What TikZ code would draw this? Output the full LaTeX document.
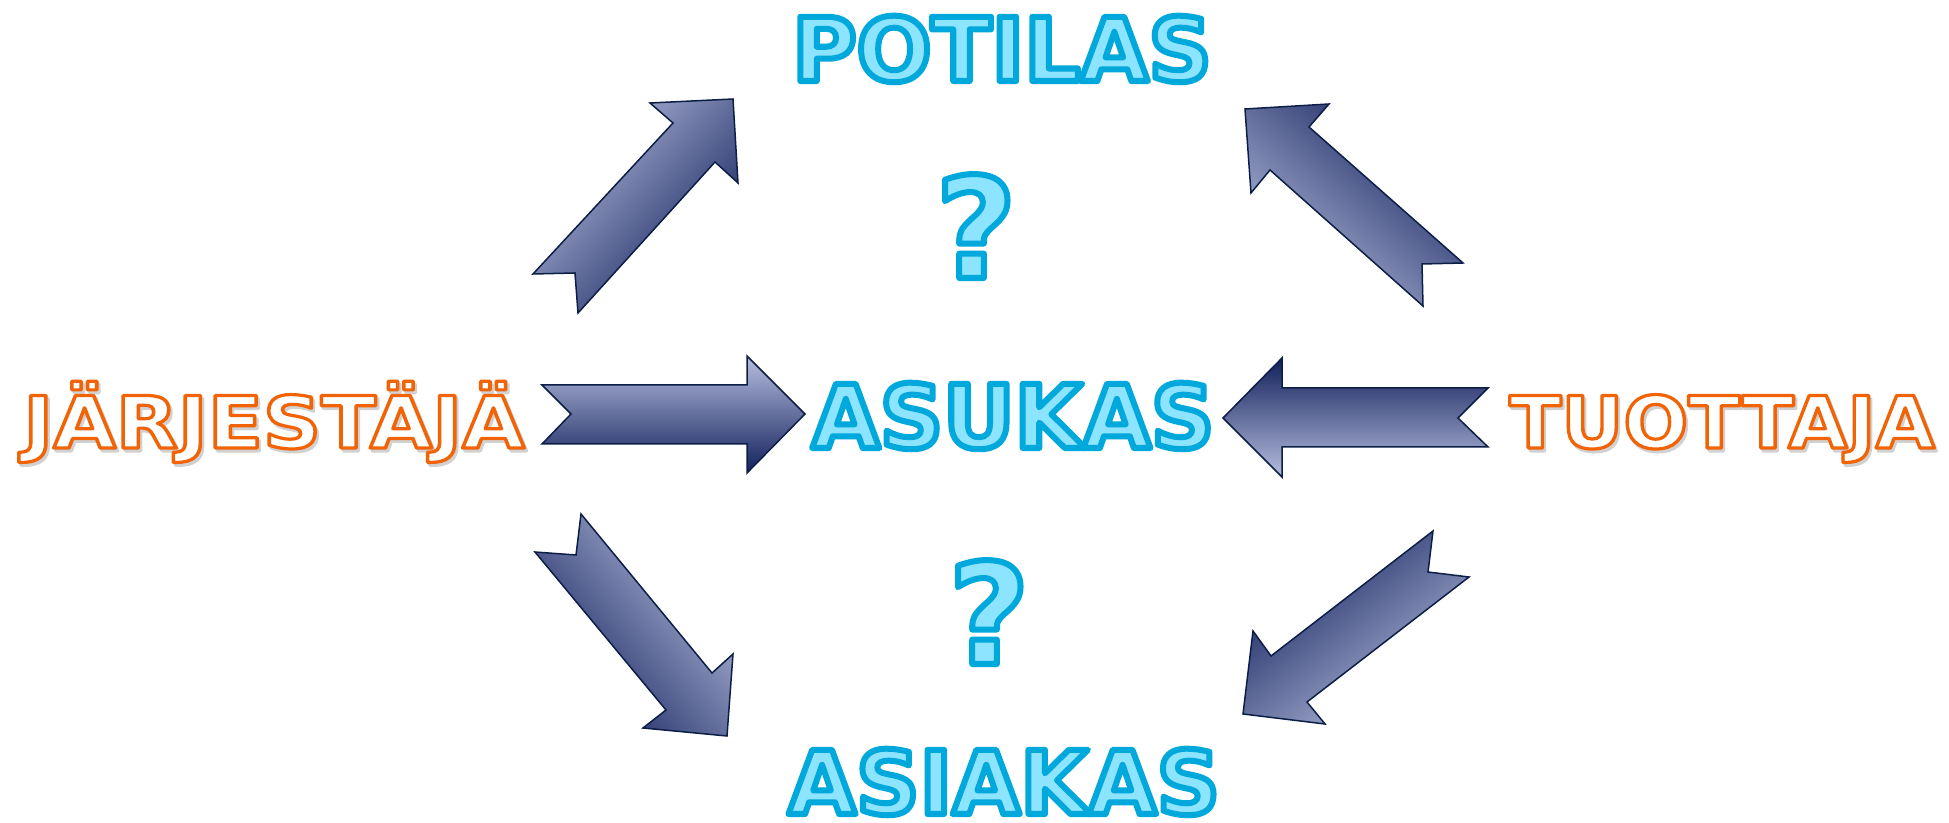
\documentclass[tikz,border=0pt]{standalone}
\usepackage{fontspec}
\setmainfont{DejaVu Sans}
\usetikzlibrary{positioning}

\definecolor{skyfill}{RGB}{140,228,255}
\definecolor{emberfill}{RGB}{255,255,255}
\definecolor{embershadow}{RGB}{210,210,210}
\definecolor{arrowlight}{RGB}{182,190,222}
\definecolor{arrowmid}{RGB}{104,114,160}
\definecolor{arrowdark}{RGB}{18,32,92}
\definecolor{arrowline}{RGB}{12,30,70}

% stroke colour (r g b), stroke width, text
\newcommand\outlined[3]{\special{pdf:literal direct #1 RG #2 w 1 j 2 Tr}#3\special{pdf:literal direct 0 Tr}}
\newcommand\skyword[1]{\textcolor{skyfill}{\outlined{0 0.66 0.86}{6}{#1}}}
\newcommand\emberword[2][1]{\scalebox{#1}[1]{\rlap{\hspace{2pt}\raisebox{-3pt}{\textcolor{embershadow}{\outlined{0.82 0.82 0.82}{3}{#2}}}}\textcolor{emberfill}{\outlined{0.95 0.39 0.02}{3.2}{#2}}}}

\begin{document}
\begin{tikzpicture}[x=1pt,y=1pt,
  word/.style={inner sep=0pt,anchor=base,font=\bfseries\fontsize{88}{90}\selectfont},
  role/.style={inner sep=0pt,anchor=base,font=\bfseries\fontsize{72}{74}\selectfont},
  query/.style={inner sep=0pt,anchor=base,font=\bfseries\fontsize{140}{142}\selectfont},
  fatarrow/.style={draw=arrowline,line width=1.5pt,top color=arrowlight,middle color=arrowmid,bottom color=arrowdark}]
  \useasboundingbox (0,0) rectangle (1949,822);
  % The three names in the middle column.
  \node[word] (asukas) at (1013,374) {\skyword{ASUKAS}};
  \node[word] (potilas) at (1002,741) {\skyword{POTILAS}};
  \node[word] (asiakas) at (1004,8) {\skyword{ASIAKAS}};
  % Question marks between them.
  \node[query] (upq) at (976,544) {\skyword{?}};
  \node[query] (downq) at (989,158) {\skyword{?}};
  % The two roles on the sides.
  \node[role] (jarj) at (274,374) {\emberword[1.12]{JÄRJESTÄJÄ}};
  \node[role] (tuot) at (1722,374) {\emberword[1.06]{TUOTTAJA}};
  % Block arrows: tail, notch, tail, shaft, head, tip, head, shaft.
  \path[fatarrow,shading angle=0] (542,437) -- (571,408) -- (542,378) -- (747,378)
    -- (747,349) -- (805,408) -- (747,466) -- (747,437) -- cycle;
  \path[fatarrow,shading angle=180] (1488,375) -- (1458,404) -- (1488,434) -- (1282,434)
    -- (1282,464) -- (1223,404) -- (1282,345) -- (1282,375) -- cycle;
  \path[fatarrow,shading angle=47.8] (578,509) -- (575,549) -- (533,548) -- (673,699)
    -- (650,719) -- (733,723) -- (738,639) -- (715,660) -- cycle;
  \path[fatarrow,shading angle=138.8] (1423,516) -- (1422,558) -- (1463,559) -- (1309,695)
    -- (1329,718) -- (1245,713) -- (1251,629) -- (1270,652) -- cycle;
  \path[fatarrow,shading angle=-50.2] (535,270) -- (576,267) -- (581,308) -- (712,149)
    -- (733,168) -- (727,86) -- (643,94) -- (666,112) -- cycle;
  \path[fatarrow,shading angle=217.5] (1433,291) -- (1428,250) -- (1469,245) -- (1307,120)
    -- (1325,98) -- (1243,108) -- (1253,191) -- (1271,166) -- cycle;
\end{tikzpicture}
\end{document}
